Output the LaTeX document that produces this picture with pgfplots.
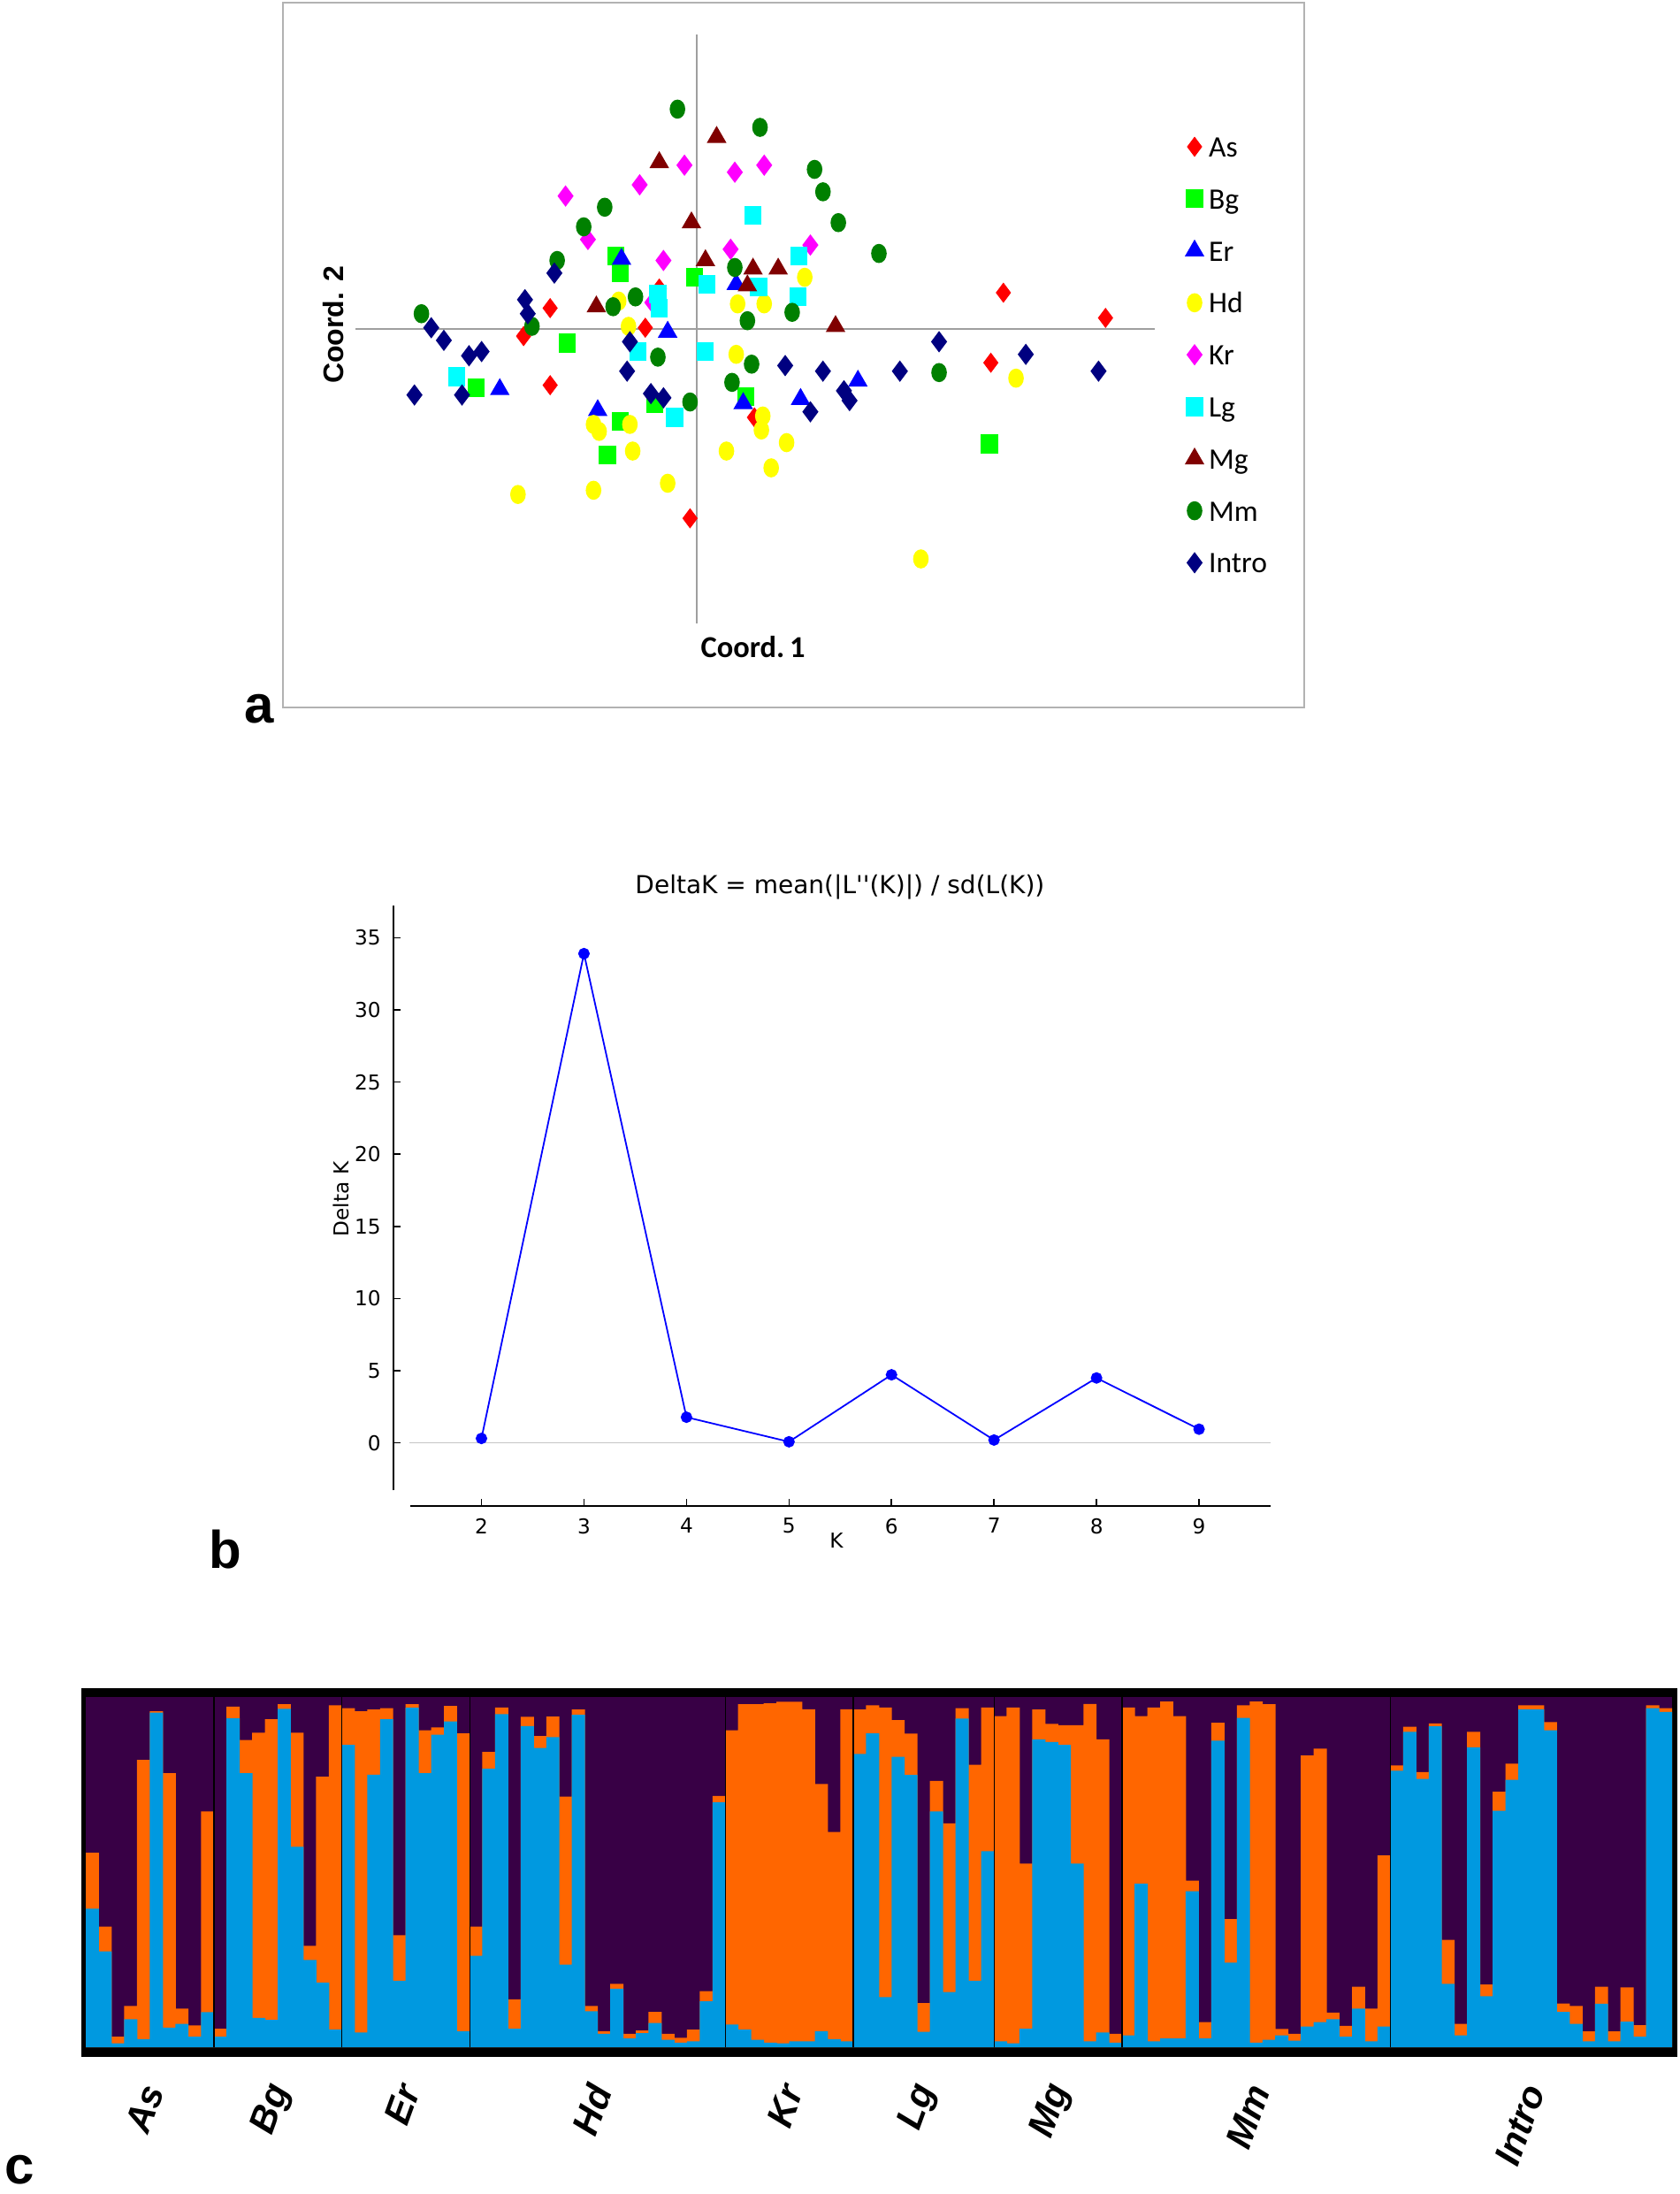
\documentclass[border=0pt]{standalone}
\usepackage{fontspec}
\setmainfont{Liberation Sans}
\newfontfamily\carlito{Carlito}
\newfontfamily\dejavu{DejaVu Sans}[Ligatures=TeXOff]
\usepackage{pgfplots}
\usepackage{pgfplotstable}
\pgfplotsset{compat=1.18}
\definecolor{cPur}{HTML}{380045}
\definecolor{cOra}{HTML}{FF6600}
\definecolor{cBlu}{HTML}{0099E0}
\definecolor{asred}{RGB}{255,0,0}
\definecolor{bggreen}{RGB}{0,255,0}
\definecolor{erblue}{RGB}{0,0,255}
\definecolor{hdyellow}{RGB}{255,255,0}
\definecolor{krmag}{RGB}{255,0,255}
\definecolor{lgcyan}{RGB}{0,255,255}
\definecolor{mgred}{HTML}{800000}
\definecolor{mmgreen}{HTML}{008000}
\definecolor{intro}{HTML}{000080}
\pgfplotstableread{
x b c
0.5 0.396 0.556
1.5 0.274 0.345
2.5 0.011 0.030
3.5 0.080 0.118
4.5 0.023 0.821
5.5 0.956 0.960
6.5 0.056 0.783
7.5 0.067 0.110
8.5 0.030 0.062
9.5 0.100 0.674
10.5 0.030 0.053
11.5 0.940 0.973
12.5 0.783 0.878
13.5 0.084 0.899
14.5 0.078 0.937
15.5 0.967 0.980
16.5 0.573 0.899
17.5 0.249 0.290
18.5 0.185 0.773
19.5 0.050 0.977
20.5 0.864 0.969
21.5 0.042 0.960
22.5 0.779 0.965
23.5 0.937 0.969
24.5 0.190 0.320
25.5 0.970 0.980
26.5 0.783 0.906
27.5 0.893 0.914
28.5 0.931 0.975
29.5 0.046 0.897
30.5 0.261 0.345
31.5 0.796 0.844
32.5 0.952 0.971
33.5 0.053 0.137
34.5 0.918 0.944
35.5 0.855 0.889
36.5 0.886 0.945
37.5 0.236 0.716
38.5 0.950 0.965
39.5 0.103 0.118
40.5 0.038 0.046
41.5 0.167 0.181
42.5 0.025 0.038
43.5 0.040 0.048
44.5 0.069 0.101
45.5 0.021 0.038
46.5 0.013 0.027
47.5 0.017 0.050
48.5 0.131 0.160
49.5 0.700 0.718
50.5 0.065 0.906
51.5 0.050 0.980
52.5 0.021 0.980
53.5 0.013 0.983
54.5 0.011 0.987
55.5 0.017 0.987
56.5 0.017 0.966
57.5 0.046 0.752
58.5 0.023 0.615
59.5 0.017 0.966
60.5 0.838 0.965
61.5 0.897 0.977
62.5 0.143 0.971
63.5 0.830 0.935
64.5 0.778 0.896
65.5 0.044 0.126
66.5 0.674 0.761
67.5 0.158 0.640
68.5 0.939 0.969
69.5 0.190 0.807
70.5 0.560 0.971
71.5 0.017 0.946
72.5 0.011 0.971
73.5 0.053 0.525
74.5 0.880 0.965
75.5 0.872 0.924
76.5 0.864 0.920
77.5 0.525 0.920
78.5 0.017 0.981
79.5 0.042 0.880
80.5 0.013 0.038
81.5 0.034 0.971
82.5 0.467 0.946
83.5 0.017 0.971
84.5 0.025 0.988
85.5 0.025 0.946
86.5 0.446 0.476
87.5 0.025 0.072
88.5 0.876 0.927
89.5 0.242 0.366
90.5 0.941 0.977
91.5 0.013 0.988
92.5 0.021 0.980
93.5 0.034 0.052
94.5 0.019 0.038
95.5 0.059 0.834
96.5 0.072 0.853
97.5 0.080 0.099
98.5 0.030 0.061
99.5 0.110 0.173
100.5 0.017 0.110
101.5 0.059 0.548
102.5 0.790 0.805
103.5 0.901 0.916
104.5 0.767 0.786
105.5 0.917 0.925
106.5 0.181 0.307
107.5 0.034 0.067
108.5 0.857 0.901
109.5 0.146 0.179
110.5 0.676 0.730
111.5 0.764 0.810
112.5 0.966 0.977
113.5 0.966 0.977
114.5 0.906 0.929
115.5 0.101 0.125
116.5 0.067 0.118
117.5 0.017 0.045
118.5 0.124 0.173
119.5 0.017 0.045
120.5 0.073 0.171
121.5 0.030 0.063
122.5 0.969 0.977
123.5 0.958 0.969
}\structdata
\begin{document}
\begin{tikzpicture}
\useasboundingbox (0,0) rectangle (474.75pt,-620.25pt);
%% ---------------- panel a ----------------
\begin{axis}[
  at={(80pt,-200pt)}, anchor=south west, scale only axis,
  width=288.75pt, height=199.25pt,
  xmin=-296, xmax=434, ymin=-270, ymax=233,
  axis line style={draw=gray!60, line width=0.6pt},
  xtick=\empty, ytick=\empty, clip=false,
  only marks,
  legend style={at={(axis cs:349,141)}, anchor=north west, draw=none, fill=none,
     inner sep=0pt, row sep=6.5pt, column sep=1.6pt,
     nodes={inner sep=0pt, text height=7pt, text depth=1.2pt,
            font=\carlito\fontsize{8.4}{10}\selectfont}},
  legend cell align=left,
  legend image code/.code={\draw[#1] plot coordinates {(0pt,0pt)};},
]
\addplot[gray!75, line width=0.6pt, no marks, sharp plot, forget plot] coordinates {(-244,0) (327,0)};
\addplot[gray!75, line width=0.5pt, no marks, sharp plot, forget plot] coordinates {(0,210) (0,-210)};
\addplot[only marks, mark=diamond*, mark size=2.7pt, color=asred, mark options={fill=asred, draw=asred, line width=0.2pt}] coordinates {
(-105,15) (-124,-5) (-37,1) (-27,29) (-105,-40) (-5,-135) (41,-63) (219,26) (292,8) (210,-24)};
\addlegendentry{As}
\addplot[only marks, mark=square*, mark size=2.2pt, color=bggreen, mark options={fill=bggreen, draw=bggreen, yscale=1.12}] coordinates {
(-2,37) (-58,52) (-55,40) (-93,-10) (-158,-42) (-55,-66) (-64,-90) (-30,-53) (35,-48) (209,-82)};
\addlegendentry{Bg}
\addplot[only marks, mark=triangle*, mark size=2.8pt, color=erblue, mark options={fill=erblue, draw=erblue}] coordinates {
(-54,50) (-21,-2) (28,32) (-141,-43) (-71,-58) (33,-53) (74,-50) (115,-37)};
\addlegendentry{Er}
\addplot[only marks, mark=*, mark size=2.5pt, color=hdyellow, mark options={fill=hdyellow, draw=hdyellow, xscale=0.8}] coordinates {
(-128,-118) (-74,-115) (-21,-110) (21,-87) (53,-99) (64,-81) (46,-72) (47,-62) (28,-18) (-74,-68)
(-70,-73) (-48,-68) (-46,-87) (160,-164) (-56,20) (-49,2) (29,18) (48,18) (77,37) (228,-35)};
\addlegendentry{Hd}
\addplot[only marks, mark=diamond*, mark size=2.7pt, color=krmag, mark options={fill=krmag, draw=krmag}] coordinates {
(-94,95) (-41,103) (-9,117) (27,112) (48,117) (-78,64) (-24,49) (24,57) (81,60) (-32,19)};
\addlegendentry{Kr}
\addplot[only marks, mark=square*, mark size=2.2pt, color=lgcyan, mark options={fill=lgcyan, draw=lgcyan, yscale=1.12}] coordinates {
(40,81) (73,52) (7,32) (44,30) (72,23) (-28,25) (-27,15) (-42,-16) (6,-16) (-172,-34) (-16,-63)};
\addlegendentry{Lg}
\addplot[only marks, mark=triangle*, mark size=2.8pt, color=mgred, mark options={fill=mgred, draw=mgred}] coordinates {
(14,137) (-27,119) (-4,76) (6,49) (40,43) (58,43) (36,31) (-72,16) (99,2)};
\addlegendentry{Mg}
\addplot[only marks, mark=*, mark size=2.5pt, color=mmgreen, mark options={fill=mmgreen, draw=mmgreen, xscale=0.8}] coordinates {
(-14,157) (45,144) (84,114) (90,98) (-66,87) (101,76) (-81,73) (130,54) (-100,49) (27,44)
(-44,23) (-60,16) (68,12) (36,6) (-118,2) (-197,11) (-28,-20) (39,-25) (25,-38) (-5,-52) (173,-31)};
\addlegendentry{Mm}
\addplot[only marks, mark=diamond*, mark size=2.7pt, color=intro, mark options={fill=intro, draw=intro}] coordinates {
(-102,40) (-123,21) (-121,11) (-190,1) (-181,-8) (-163,-19) (-154,-16) (-48,-9) (173,-9) (-202,-47) (-168,-47)
(-50,-30) (-33,-46) (-24,-49) (63,-26) (90,-30) (105,-44) (109,-51) (81,-59) (145,-30) (235,-18) (287,-30)};
\addlegendentry{Intro}
\node[font=\carlito\bfseries\fontsize{8.6}{10}\selectfont] at (axis cs:40,-227) {Coord.\,1};
\node[rotate=90, font=\bfseries\fontsize{8}{9}\selectfont] at (axis cs:-260,3) {Coord. 2};
\end{axis}
\node[font=\bfseries\fontsize{15}{15}\selectfont] at (73.25pt,-200.5pt) {a};
%% ---------------- panel b ----------------
\begin{axis}[
  at={(111.2pt,-425.7pt)}, anchor=south west, scale only axis,
  width=248.1pt, height=169.7pt,
  xmin=1.14, xmax=9.70, ymin=-4.36, ymax=37.23,
  axis x line*=bottom, axis y line*=left,
  x axis line style={shorten <=4.75pt, line width=0.5pt},
  y axis line style={shorten <=4.35pt, line width=0.5pt},
  xtick={2,3,4,5,6,7,8,9}, ytick={0,5,10,15,20,25,30,35},
  tick align=inside, major tick length=2pt, tick style={black, line width=0.4pt},
  /pgf/number format/assume math mode=true,
  ticklabel style={font=\dejavu\fontsize{5.8}{6}\selectfont},
  title={DeltaK = mean(|L''(K)|) / sd(L(K))},
  title style={font=\dejavu\fontsize{7}{8}\selectfont, at={(axis description cs:0.509,1.035)}, anchor=center, yshift=-6.7pt},
  xlabel={K}, ylabel={Delta K},
  xlabel style={font=\dejavu\fontsize{5.8}{6}\selectfont, at={(axis description cs:0.505,-0.058)}, anchor=center},
  ylabel style={font=\dejavu\fontsize{5.8}{6}\selectfont, at={(axis description cs:-0.059,0.511)}, anchor=center, rotate=0},
]
\addplot[color=gray!45, line width=0.4pt, no marks] coordinates {(1.30,0) (9.70,0)};
\addplot[color=erblue, line width=0.45pt, mark=*, mark size=1.4pt, mark options={fill=erblue}] coordinates {
(2,0.31) (3,33.9) (4,1.78) (5,0.08) (6,4.72) (7,0.2) (8,4.5) (9,0.95)};
\end{axis}
\node[font=\bfseries\fontsize{15}{15}\selectfont] at (63.75pt,-438pt) {b};
%% ---------------- panel c ----------------
\begin{axis}[
  at={(23pt,-581.5pt)}, anchor=south west, scale only axis,
  width=451.2pt, height=104.25pt,
  xmin=-0.3665, xmax=124.415, ymin=-0.0278, ymax=1.026,
  axis background/.style={fill=black},
  axis line style={draw=none},
  major tick length=0pt, ytick=\empty,
  xtick={5,15,25,40,55,65.5,76,91.5,113},
  xticklabels={As,Bg,Er,Hd,Kr,Lg,Mg,Mm,Intro},
  xticklabel style={yshift=-5pt, xshift=2pt, rotate=70, anchor=east,
                    font=\bfseries\itshape\fontsize{10.5}{11}\selectfont},
]
\addplot[ybar, bar width=124, bar shift=0pt, fill=cPur, draw=none] coordinates {(62,1)};
\addplot[ybar, bar width=1.03, bar shift=0pt, fill=cOra, draw=none] table[x=x, y=c] {\structdata};
\addplot[ybar, bar width=1.03, bar shift=0pt, fill=cBlu, draw=none] table[x=x, y=b] {\structdata};
\addplot[ycomb, black, line width=0.35pt, no marks] coordinates {(10,1) (20,1) (30,1) (50,1) (60,1) (71,1) (81,1) (102,1)};
\end{axis}
\node[font=\bfseries\fontsize{15}{15}\selectfont] at (5.5pt,-613.3pt) {c};
\end{tikzpicture}
\end{document}
